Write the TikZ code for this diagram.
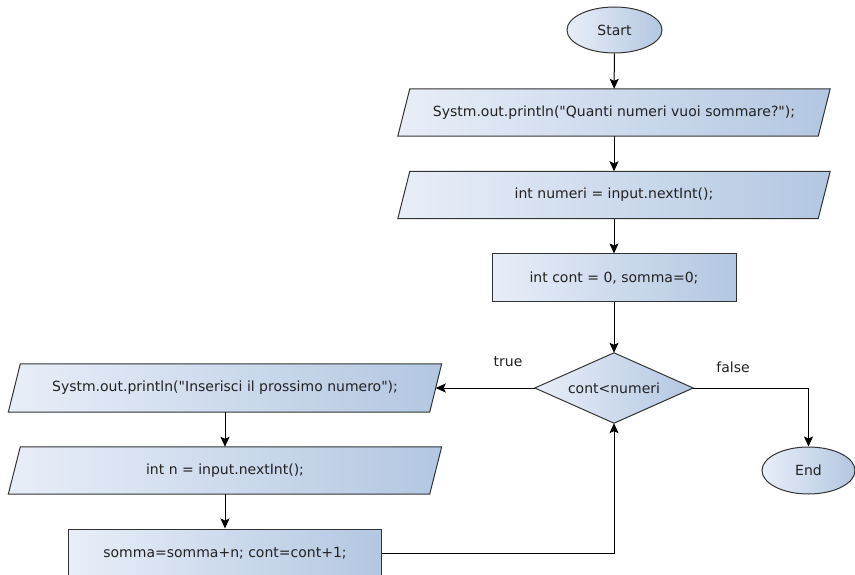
\documentclass[tikz,border=0pt]{standalone}
\usepackage{fontspec}
\setmainfont{DejaVu Sans}[Ligatures=TeXOff]
\usetikzlibrary{shapes.geometric,arrows.meta,backgrounds}
\definecolor{boxL}{HTML}{E8EEF8}
\definecolor{boxR}{HTML}{B3C7E1}
\definecolor{edge}{HTML}{333333}
\definecolor{txt}{HTML}{222222}
\tikzset{
  fnt/.style={font=\fontsize{14}{16}\selectfont},
  shade/.style={draw=edge, line width=1pt, left color=boxL, right color=boxR},
  base/.style={shade, inner sep=0pt, text=txt, fnt},
  term/.style={base, ellipse, minimum width=95pt, minimum height=46pt},
  io/.style={rectangle, inner sep=0pt, text=txt, fnt, minimum width=420pt, minimum height=47pt},
  proc/.style={base, rectangle, minimum height=47pt},
  dec/.style={rectangle, inner sep=0pt, text=txt, fnt, minimum width=158pt, minimum height=70pt},
  conn/.style={draw=black, line width=1pt, -{Stealth[length=10pt,width=9pt,inset=2pt]}},
  lbl/.style={text=txt, fnt, inner sep=0pt}
}
\newcommand{\ioshape}[1]{%
  \path[shade] ([xshift=-6pt]#1.south west) -- ([xshift=6pt]#1.north west)
    -- ([xshift=6pt]#1.north east) -- ([xshift=-6pt]#1.south east) -- cycle;}
\newcommand{\decshape}[1]{%
  \path[shade] (#1.west) -- (#1.north) -- (#1.east) -- (#1.south) -- cycle;}
\begin{document}
\begin{tikzpicture}[x=1pt,y=-1pt]
\useasboundingbox (0,0) rectangle (855,575);
\clip (0,0) rectangle (855,575);
\node[term] (start) at (614.5,30) {Start};
\node[io] (p1) at (614,112.5) {Systm.out.println("Quanti numeri vuoi sommare?");};
\node[io] (p2) at (614,195) {int numeri = input.nextInt();};
\node[proc, minimum width=244pt] (r1) at (614,277.5) {int cont = 0, somma=0;};
\node[dec] (d) at (614,388) {cont<numeri};
\node[io, minimum width=421pt, minimum height=48pt] (p3) at (225,388) {Systm.out.println("Inserisci il prossimo numero");};
\node[io, minimum width=421pt] (p4) at (225,470.5) {int n = input.nextInt();};
\node[proc, minimum width=313pt, minimum height=48pt] (r2) at (225,553) {somma=somma+n; cont=cont+1;};
\node[term, minimum width=93pt, minimum height=47pt] (end) at (808.5,470.5) {End};
\node[lbl] (t) at (508,362) {true};
\node[lbl] (f) at (733,367) {false};
\begin{scope}[on background layer]
\ioshape{p1}
\ioshape{p2}
\ioshape{p3}
\ioshape{p4}
\decshape{d}
\end{scope}
\draw[conn] (start) -- (p1);
\draw[conn] (p1) -- (p2);
\draw[conn] (p2) -- (r1);
\draw[conn] (r1) -- (d);
\draw[conn] (d.west) -- (p3.east);
\draw[conn] (d.east) -| (end.north);
\draw[conn] (p3) -- (p4);
\draw[conn] (p4) -- (r2);
\draw[conn] (r2.east) -| (d.south);
\end{tikzpicture}
\end{document}
